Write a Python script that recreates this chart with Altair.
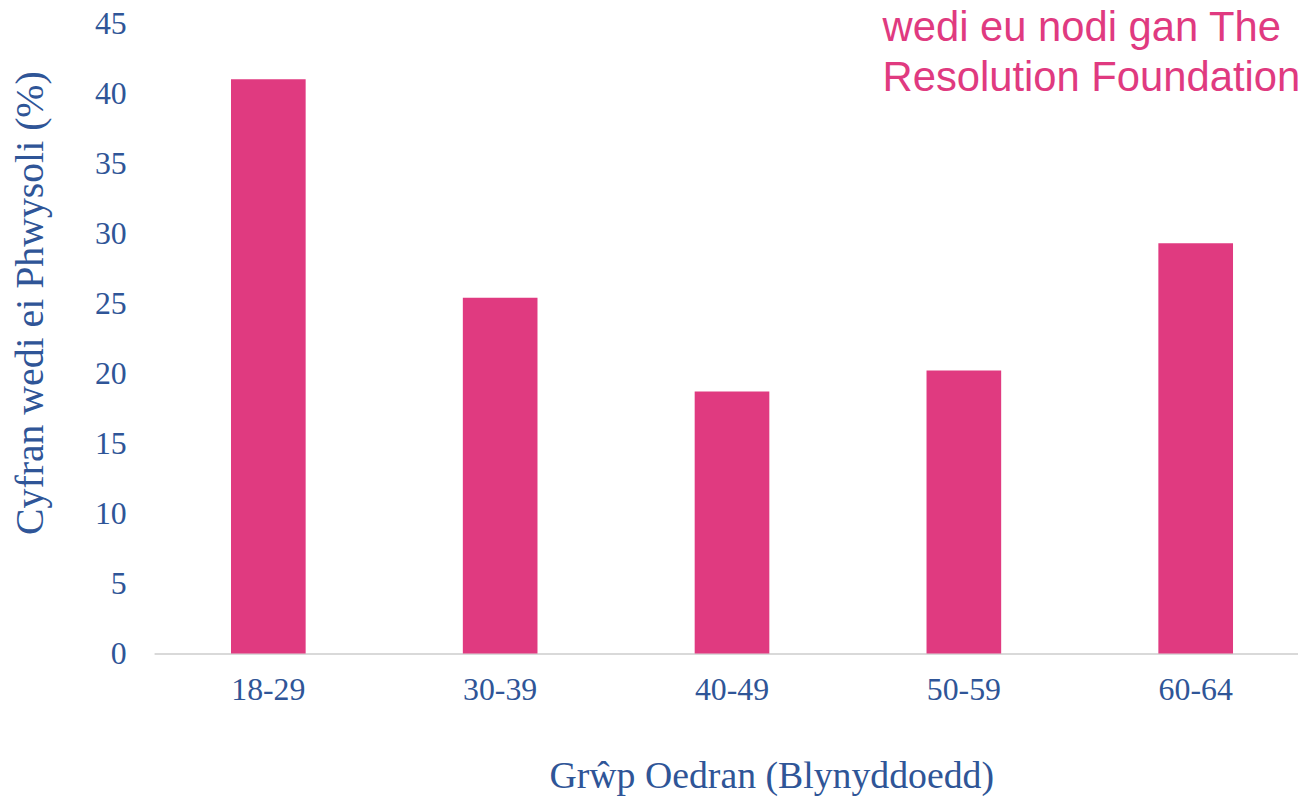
import altair as alt
import pandas as pd

categories = ["18-29", "30-39", "40-49", "50-59", "60-64"]
values = [41.0, 25.4, 18.7, 20.2, 29.3]
y_ticks = [0, 5, 10, 15, 20, 25, 30, 35, 40, 45]
note_lines = ["wedi eu nodi gan The\nResolution Foundation"]

PINK = "#E03A80"
BLUE = "#2F5597"

df = pd.DataFrame({"group": categories, "value": values})
notes = pd.DataFrame({"note": note_lines})

bars = alt.Chart(df).mark_bar(color=PINK).encode(
    x=alt.X(
        "group:N",
        sort=categories,
        scale=alt.Scale(paddingInner=0.678, paddingOuter=0.306, align=0.542),
        axis=alt.Axis(
            title="Grŵp Oedran (Blynyddoedd)",
            labelAngle=0,
            labelFont="Liberation Serif",
            labelFontSize=32,
            labelColor=BLUE,
            labelPadding=21,
            ticks=False,
            grid=False,
            domainColor="#D9D9D9",
            domainWidth=2,
            titleFont="Liberation Serif",
            titleFontSize=38,
            titleFontWeight="normal",
            titleColor=BLUE,
            titleX=621,
            titleY=135,
            titleAlign="center",
            titleBaseline="alphabetic",
        ),
    ),
    y=alt.Y(
        "value:Q",
        scale=alt.Scale(domain=[0, 45], nice=False),
        axis=alt.Axis(
            title="Cyfran wedi ei Phwysoli (%)",
            values=y_ticks,
            labelFont="Liberation Serif",
            labelFontSize=32,
            labelColor=BLUE,
            labelPadding=28,
            ticks=False,
            domain=False,
            grid=False,
            titleFont="Liberation Serif",
            titleFontSize=40,
            titleFontWeight="normal",
            titleColor=BLUE,
            titleX=-124,
            titleY=281,
            titleAlign="center",
            titleBaseline="middle",
            titleAngle=270,
        ),
    ),
)

note = alt.Chart(notes).mark_text(
    align="left",
    baseline="alphabetic",
    font="Liberation Sans",
    fontSize=42,
    color=PINK,
    lineBreak="\n",
    lineHeight=50,
).encode(
    x=alt.value(733),
    y=alt.value(18),
    text="note:N",
)

chart = alt.layer(bars, note).properties(
    width=1151,
    height=634,
    background="white",
    autosize=alt.AutoSizeParams(type="none"),
    padding={"left": 147, "top": 13, "right": 0, "bottom": 144},
).configure_view(strokeOpacity=0, strokeWidth=0)

chart.save("out.html", embed_options={"renderer": "svg", "actions": False})
